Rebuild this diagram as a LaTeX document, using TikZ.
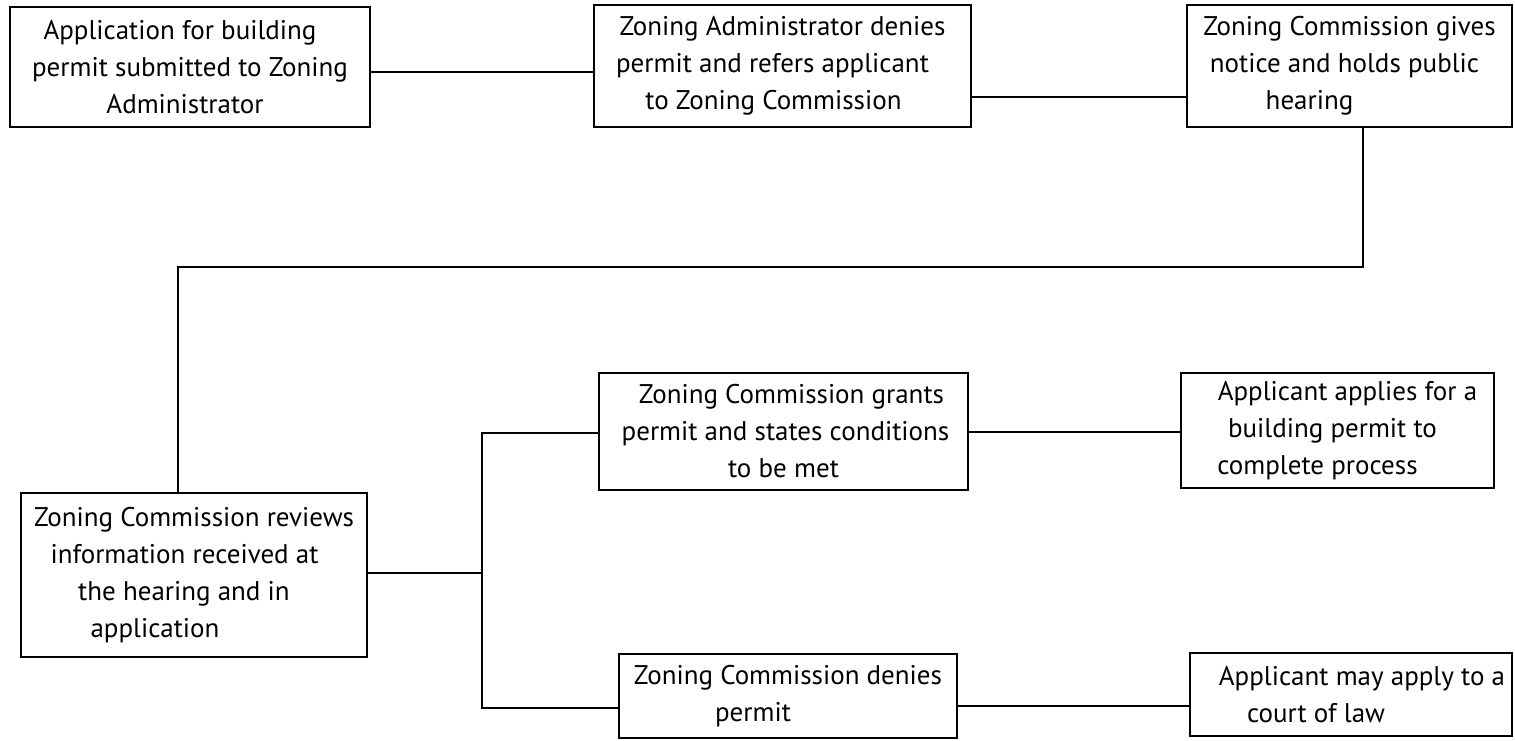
\documentclass[tikz,border=0pt]{standalone}
\usepackage{fontspec}
\setmainfont{PT Sans}
\newcommand{\shln}[2]{\hspace*{#1}#2\hspace*{-#1}}
\begin{document}
\begin{tikzpicture}[x=0.5pt,y=-0.5pt,
  box/.style={draw, line width=1pt, rectangle, align=center, inner sep=0pt,
    font=\fontsize{13.5}{18.5}\selectfont},
  conn/.style={line width=1pt}]
\useasboundingbox (0,0) rectangle (1515,740);
\node[box, minimum width=180pt, minimum height=60pt] (b1) at (190,67)
  {\shln{-5pt}{Application for building}\\permit submitted to Zoning\\\shln{-2.5pt}{Administrator}};
\node[box, minimum width=188.5pt, minimum height=61pt] (b2) at (782.5,66)
  {Zoning Administrator denies\\\shln{-10pt}{permit and refers applicant}\\\shln{-4.5pt}{to Zoning Commission}};
\node[box, minimum width=162.5pt, minimum height=61pt] (b3) at (1349.5,66)
  {Zoning Commission gives\\\shln{-5pt}{notice and holds public}\\\shln{-20pt}{hearing}};
\node[box, minimum width=173pt, minimum height=82pt] (b4) at (194,575)
  {Zoning Commission reviews\\\shln{-9.5pt}{information received at}\\\shln{-10pt}{the hearing and in}\\\shln{-19.5pt}{application}};
\node[box, minimum width=184.5pt, minimum height=58.5pt] (b5) at (783.5,431.5)
  {\shln{4pt}{Zoning Commission grants}\\\shln{2pt}{permit and states conditions}\\to be met};
\node[box, minimum width=156.5pt, minimum height=57.5pt] (b6) at (1337.5,430.5)
  {\shln{5pt}{Applicant applies for a}\\\shln{-5pt}{building permit to}\\\shln{-10pt}{complete process}};
\node[box, minimum width=169pt, minimum height=42pt] (b7) at (788,696)
  {Zoning Commission denies\\\shln{-17.5pt}{permit}};
\node[box, minimum width=161pt, minimum height=41.5pt] (b8) at (1351,694.5)
  {\shln{5.5pt}{Applicant may apply to a}\\\shln{-17.5pt}{court of law}};

\coordinate (r1) at (0,72);
\coordinate (r2) at (0,97);
\coordinate (t1) at (1363,267);
\coordinate (t2) at (178,267);
\coordinate (j) at (482,573);
\coordinate (jt) at (482,433);
\coordinate (jb) at (482,708);
\coordinate (r3) at (0,706);

\draw[conn] (b1.east |- r1) -- (b2.west |- r1);
\draw[conn] (b2.east |- r2) -- (b3.west |- r2);
\draw[conn] (b3.south -| t1) -- (t1) -- (t2) -- (b4.north -| t2);
\draw[conn] (b4.east |- j) -- (j);
\draw[conn] (b5.west |- jt) -- (jt) -- (jb) -- (b7.west |- jb);
\draw[conn] (b5.east) -- (b6.west |- b5.east);
\draw[conn] (b7.east |- r3) -- (b8.west |- r3);
\end{tikzpicture}
\end{document}
